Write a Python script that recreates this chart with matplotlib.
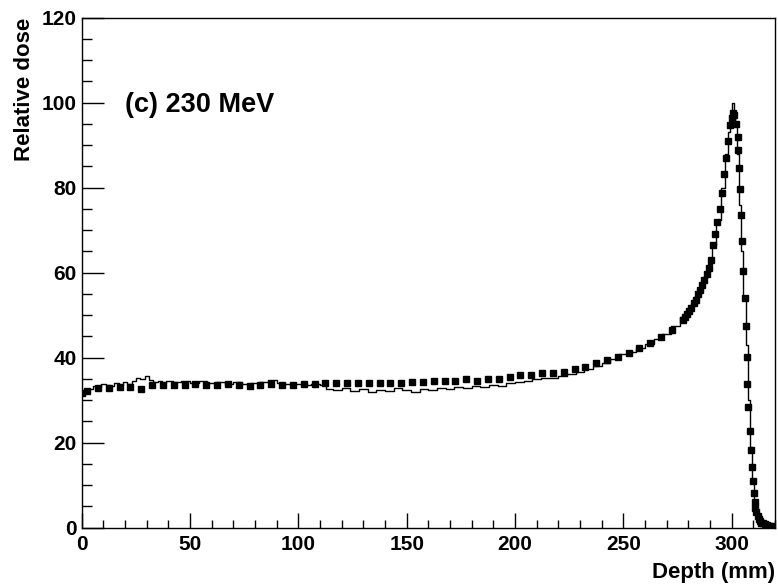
import matplotlib.pyplot as plt
from matplotlib.ticker import MultipleLocator

# simulated depth-dose curve (histogram)
sim_depth = [
    0, 2, 4, 6, 8, 10, 12, 14, 16, 18, 20, 22, 24, 26, 28, 30, 32, 34, 36, 38,
    40, 44, 48, 52, 56, 60, 64, 68, 72, 76, 80, 84, 88, 92, 96, 100, 104, 108,
    112, 114, 118, 122, 126, 130, 134, 138, 142, 146, 150, 154, 158, 162, 166,
    170, 174, 178, 182, 186, 190, 194, 198, 202, 206, 210, 214, 218, 222, 226,
    230, 234, 238, 242, 246, 250, 254, 258, 262, 266, 270, 274, 278, 280, 282,
    284, 286, 288, 290, 292, 294, 296, 298, 299, 300, 300.7, 301.5, 302, 303,
    304, 305, 306, 307, 308, 309, 310, 311, 312, 313, 314, 316, 318, 320
]
sim_dose = [
    31.5, 32.0, 32.6, 33.4, 33.0, 33.8, 33.6, 33.4, 34.0, 33.5, 34.2, 33.8,
    34.5, 35.2, 35.0, 35.6, 34.8, 34.2, 34.6, 34.0,
    34.5, 34.2, 34.6, 34.0, 34.5, 34.1, 34.4, 33.9, 34.3, 33.8, 34.0, 34.4,
    34.7, 34.0, 33.8, 33.9, 33.5, 33.8,
    33.5, 32.6, 32.4, 32.8, 32.2, 32.6, 32.0, 32.5, 32.2, 32.8, 32.3, 32.0,
    32.6, 32.4, 32.9,
    32.6, 33.0, 32.8, 33.3, 33.0, 33.6, 33.4, 34.0, 34.2, 34.6, 34.9, 35.3,
    35.2, 35.8, 36.2,
    36.6, 37.4, 38.0, 38.8, 39.6, 40.8, 41.3, 42.2, 43.2, 44.4, 45.6, 47.4,
    49.5, 50.6, 52.3,
    54.6, 56.5, 59.0, 62.0, 66.5, 72.5, 80.0, 88.0, 93.0, 97.0, 100.0, 98.0,
    95.0, 88.0,
    76.0, 65.0, 54.0, 43.0, 30.0, 19.0, 11.0, 5.0, 2.5, 1.4, 0.9, 0.5, 0.3, 0.2
]

# measured points
meas_depth = [
    0, 2.5, 7.5, 12.5, 17.5, 22.5, 27.5, 32.5, 37.5, 42.5, 47.5, 52.5, 57.5,
    62.5, 67.5, 72.5, 77.5, 82.5, 87.5, 92.5, 97.5, 102.5, 107.5, 112.5,
    117.5, 122.5, 127.5, 132.5, 137.5, 142.5, 147.5, 152.5, 157.5, 162.5,
    167.5, 172.5, 177.5, 182.5, 187.5, 192.5, 197.5, 202.5, 207.5, 212.5,
    217.5, 222.5, 227.5, 232.5, 237.5, 242.5, 247.5, 252.5, 257.5, 262.5,
    267.5, 272.5, 277.5, 278.5, 279.5, 280.5, 281.5, 282.5, 283.5, 284.5,
    285.5, 286.5, 287.5, 288.5, 289.5, 290.5, 291.5, 292.5, 293.5, 294.5,
    295.5, 296.5, 297.5, 298.5, 299.2, 300.0, 300.7, 301.3, 302.0, 302.9,
    303.2, 303.4, 303.8, 304.3, 304.6, 305.4, 306.1, 306.6, 307.0, 307.3,
    307.8, 308.3, 308.8, 309.4, 310.0, 310.4, 310.7, 311.0, 311.5, 312.0,
    312.5, 313.0, 313.8, 314.6, 315.5, 316.4, 317.2, 318.0
]
meas_dose = [
    31.6, 32.2, 32.8, 32.8, 33.2, 33.2, 32.6, 33.6, 33.6, 33.6, 33.6, 33.8,
    33.6, 33.6, 33.8, 33.6, 33.4, 33.6, 33.8, 33.6, 33.6, 33.8, 33.8, 34.0,
    34.0, 34.0, 34.0, 34.0, 34.1, 34.1, 34.1, 34.2, 34.2, 34.6,
    34.6, 34.6, 34.9, 34.6, 35.1, 35.1, 35.5, 35.9, 35.9, 36.3,
    36.5, 36.7, 37.3, 37.9, 38.7, 39.4, 40.2, 41.0, 42.2, 43.4,
    44.8, 46.5, 48.9, 49.5, 50.2, 50.9, 51.6, 52.8, 53.6, 55.0,
    56.0, 57.2, 58.3, 59.6, 61.0, 63.0, 66.5, 69.0, 72.0, 75.0,
    78.8, 83.2, 87.0, 91.0, 94.8, 96.3, 97.5, 97.0, 95.0, 91.9,
    88.9, 84.7, 79.7, 73.5, 67.5, 60.5, 54.1, 47.5, 40.2, 33.8,
    28.3, 22.8, 18.3, 14.4, 11.1, 8.1, 6.1, 4.6, 3.6, 2.8,
    2.1, 1.6, 1.2, 1.0, 0.8, 0.6, 0.5, 0.4
]

plt.rcParams["font.family"] = ["Liberation Sans", "DejaVu Sans"]
plt.rcParams["font.weight"] = "bold"

fig = plt.figure(
    figsize=(7.78, 5.84),
    dpi=100
)
ax = fig.add_axes([0.105, 0.0964, 0.891, 0.8733])

ax.plot(
    sim_depth,
    sim_dose,
    color="black",
    linewidth=1.0,
    drawstyle="steps-mid"
)

ax.plot(
    meas_depth,
    meas_dose,
    linestyle="none",
    marker="s",
    markersize=4.2,
    color="black"
)

ax.set_xlim(0, 320)
ax.set_ylim(0, 120)

ax.xaxis.set_major_locator(MultipleLocator(50))
ax.xaxis.set_minor_locator(MultipleLocator(10))
ax.yaxis.set_major_locator(MultipleLocator(20))
ax.yaxis.set_minor_locator(MultipleLocator(5))

ax.tick_params(
    axis="x",
    which="major",
    direction="in",
    length=11,
    width=1.0,
    labelsize=15,
    pad=5
)
ax.tick_params(
    axis="x",
    which="minor",
    direction="in",
    length=5.5,
    width=1.0
)
ax.tick_params(
    axis="y",
    which="major",
    direction="in",
    length=15.6,
    width=1.0,
    labelsize=15,
    pad=3.5
)
ax.tick_params(
    axis="y",
    which="minor",
    direction="in",
    length=7.2,
    width=1.0
)

for label in ax.get_xticklabels() + ax.get_yticklabels():
    label.set_fontweight("bold")

for spine in ax.spines.values():
    spine.set_linewidth(1.0)

ax.set_xlabel(
    "Depth (mm)",
    fontsize=16,
    fontweight="bold",
    loc="right"
)
ax.xaxis.set_label_coords(1.0, -0.0667)

ax.set_ylabel(
    "Relative dose",
    fontsize=16,
    fontweight="bold",
    loc="top"
)
ax.yaxis.set_label_coords(-0.067, 1.0)

ax.text(
    20,
    97.9,
    "(c) 230 MeV",
    fontsize=19.5,
    fontweight="bold",
    verticalalignment="baseline",
    horizontalalignment="left"
)

plt.savefig("out.png", dpi=100)
